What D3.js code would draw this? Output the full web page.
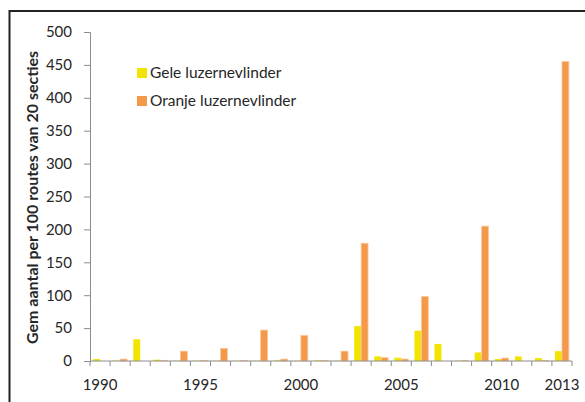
<!DOCTYPE html>
<html>
<head>
<meta charset="utf-8">
<script src="https://cdn.jsdelivr.net/npm/d3@7"></script>
<style>
  body { margin: 0; background: #fff; }
  text { font-family: Lato, "Open Sans", sans-serif; fill: #262626; }
</style>
</head>
<body>
<div id="chart"></div>
<script>
const years = d3.range(1990, 2014);
const geleValues = [3, 0.5, 33, 2, 0.5, 0.5, 0.5, 0.5, 0.5, 1, 0.5, 1,
  0.5, 53, 7, 5, 46, 26, 0.5, 13, 3, 7, 4.5, 15];
const oranjeValues = [0, 3, 0, 1, 15, 0.5, 19, 0.5, 47, 3, 39, 1,
  15, 179, 5, 3, 98, 0, 0.5, 205, 4.5, 0, 0.5, 455];
const yTicks = d3.range(0, 501, 50);
const xLabels = [1990, 1995, 2000, 2005, 2010, 2013];
const seriesNames = ["Gele luzernevlinder", "Oranje luzernevlinder"];
const colors = ["#F2E400", "#F4994A"];

const width = 585, height = 402;
const margin = {left: 90, top: 32, right: 13, bottom: 41};

const svg = d3.select("#chart").append("svg")
  .attr("width", width)
  .attr("height", height);

// outer frame, cut off by the picture on the right and bottom
svg.append("rect")
  .attr("x", 9.5).attr("y", 11)
  .attr("width", 600).attr("height", 420)
  .attr("fill", "none")
  .attr("stroke", "#222")
  .attr("stroke-width", 2);

const x = d3.scaleBand()
  .domain(years)
  .range([margin.left, width - margin.right]);

const xInner = d3.scaleBand()
  .domain([0, 1])
  .range([0, x.bandwidth()])
  .paddingInner(0)
  .paddingOuter(0.45);

const y = d3.scaleLinear()
  .domain([0, 500])
  .range([height - margin.bottom, margin.top]);

const rows = years.map((yr, i) => ({year: yr, values: [geleValues[i], oranjeValues[i]]}));

const groups = svg.append("g").selectAll("g")
  .data(rows)
  .enter().append("g")
    .attr("transform", d => `translate(${x(d.year)},0)`);

groups.selectAll("rect")
  .data(d => d.values.map((v, k) => ({k, v})))
  .enter().append("rect")
    .attr("x", d => xInner(d.k))
    .attr("width", xInner.bandwidth())
    .attr("y", d => y(d.v))
    .attr("height", d => y(0) - y(d.v))
    .attr("fill", d => colors[d.k])
    .attr("stroke", d => d.k === 1 ? "#FAC9A0" : "none")
    .attr("stroke-width", 0.8);

// y axis
const yAxis = svg.append("g")
  .attr("transform", `translate(${margin.left},0)`)
  .call(d3.axisLeft(y).tickValues(yTicks).tickSize(6).tickPadding(12));
yAxis.select(".domain").attr("stroke", "#8c8c8c");
yAxis.selectAll(".tick line").attr("stroke", "#8c8c8c");
yAxis.selectAll("text")
  .style("font-size", "15px")
  .attr("fill", "#262626");

// x axis: ticks at category boundaries
const xAxisG = svg.append("g")
  .attr("transform", `translate(0,${y(0)})`);
xAxisG.append("line")
  .attr("x1", margin.left).attr("x2", width - margin.right)
  .attr("stroke", "#8c8c8c");
xAxisG.selectAll(".xt")
  .data(years.concat([2014]))
  .enter().append("line")
    .attr("class", "xt")
    .attr("x1", d => d === 2014 ? width - margin.right : x(d))
    .attr("x2", d => d === 2014 ? width - margin.right : x(d))
    .attr("y1", 0).attr("y2", 5)
    .attr("stroke", "#8c8c8c");
xAxisG.selectAll(".xl")
  .data(xLabels)
  .enter().append("text")
    .attr("class", "xl")
    .attr("x", d => x(d) + x.bandwidth() / 2)
    .attr("y", 29)
    .attr("text-anchor", "middle")
    .style("font-size", "15px")
    .text(d => d);

// y axis title
svg.append("text")
  .attr("transform", `translate(38,${(y(0) + y(500)) / 2 + 1}) rotate(-90)`)
  .attr("text-anchor", "middle")
  .style("font-size", "16px")
  .style("font-weight", "bold")
  .text("Gem aantal  per 100 routes van 20 secties");

// legend
const legend = svg.append("g")
  .attr("transform", "translate(137,68)");
const items = legend.selectAll("g")
  .data(seriesNames)
  .enter().append("g")
    .attr("transform", (d, i) => `translate(0,${i * 28})`);
items.append("rect")
  .attr("width", 10).attr("height", 10)
  .attr("fill", (d, i) => colors[i]);
items.append("text")
  .attr("x", 13).attr("y", 10)
  .style("font-size", "15.5px")
  .text(d => d);
</script>
</body>
</html>
